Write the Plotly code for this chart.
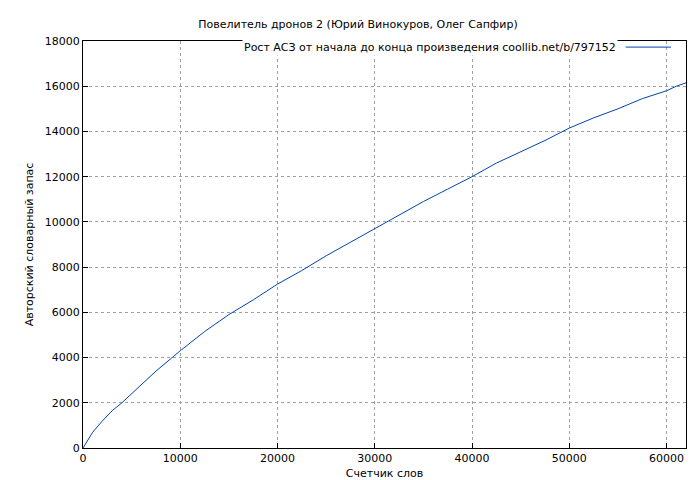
import plotly.graph_objects as go

words = [0, 500, 1000, 2000, 3000, 4000, 5000, 7500, 10000, 12500, 15000, 17500, 20000, 22500, 25000, 27500, 30000, 32500, 35000, 37500, 40000, 42500, 45000, 47500, 50000, 52500, 55000, 57500, 60000, 61000, 62000]
vocab = [0, 380, 700, 1200, 1650, 2000, 2400, 3400, 4300, 5150, 5900, 6550, 7250, 7850, 8500, 9100, 9700, 10300, 10900, 11450, 12000, 12600, 13100, 13600, 14150, 14600, 15000, 15450, 15800, 16000, 16150]

title = "Повелитель дронов 2 (Юрий Винокуров, Олег Сапфир)"
series_name = "Рост АСЗ от начала до конца произведения coollib.net/b/797152"

fig = go.Figure(go.Scatter(x=words, y=vocab, mode="lines", line=dict(color="#0045ad", width=1), showlegend=False))
grid = dict(showgrid=True, gridcolor="#a0a0a0", griddash="dot", gridwidth=1, zeroline=False, automargin=False,
            tickformat="d", tickfont=dict(size=11),
            showline=True, linecolor="black", mirror=True, ticks="inside", ticklen=5, tickcolor="black")
fig.update_layout(
    width=700, height=480, plot_bgcolor="white", paper_bgcolor="white",
    margin=dict(l=75, r=22, t=33, b=40),
    font=dict(family="DejaVu Sans", size=11, color="black"),
    title=dict(text=title, x=0.5, xanchor="center", y=0.975, font=dict(size=11)),
    xaxis=dict(range=[0, 62000], dtick=10000, title=dict(text="Счетчик слов", standoff=5, font=dict(size=11)), **grid),
    yaxis=dict(range=[0, 18000], dtick=2000, title=dict(text="Авторский словарный запас", standoff=8, font=dict(size=11)), **grid),
)
fig.add_annotation(xref="paper", yref="paper", x=0.888, y=0.985, xanchor="right", yanchor="middle",
                   text=series_name, showarrow=False, font=dict(size=11), bgcolor="white")
fig.add_shape(type="line", xref="paper", yref="paper", x0=0.9, x1=0.975, y0=0.985, y1=0.985,
              line=dict(color="#0045ad", width=1))
fig.write_html("out.html")
